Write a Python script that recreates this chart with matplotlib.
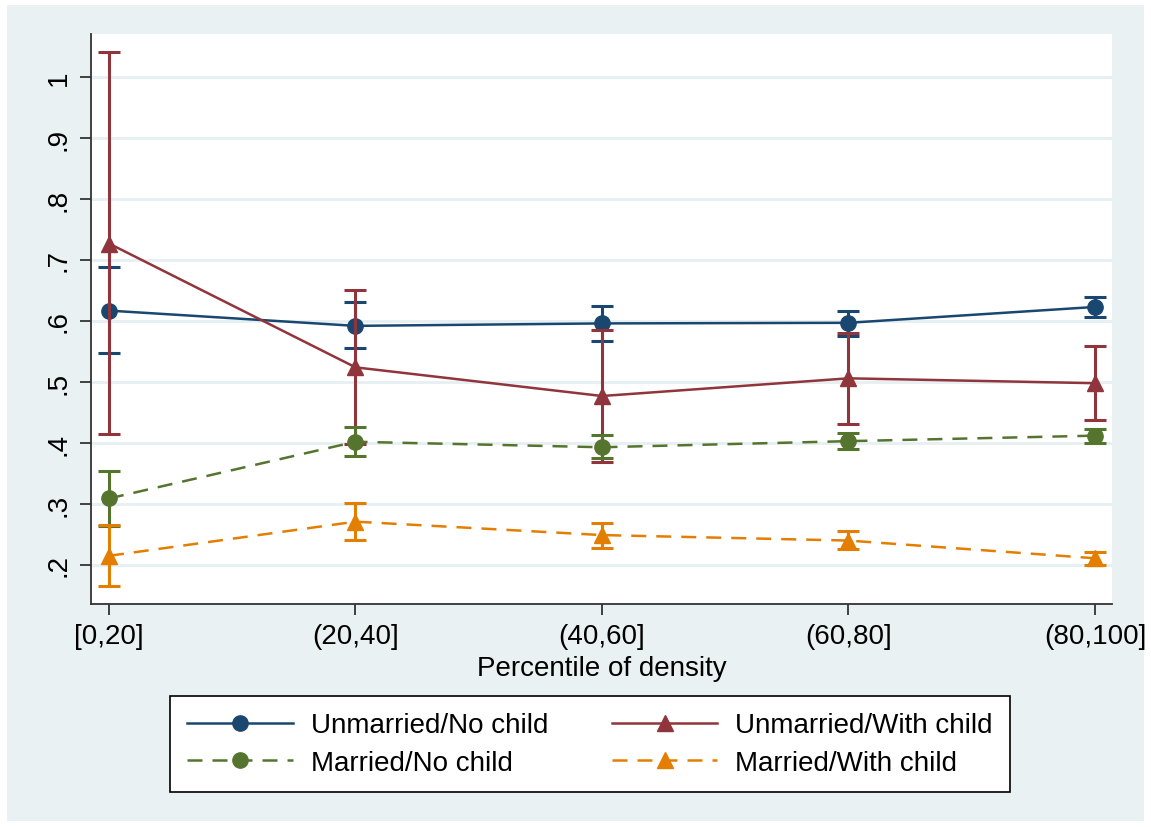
import matplotlib.pyplot as plt
from matplotlib.lines import Line2D
from matplotlib.patches import Rectangle
import numpy as np

plt.rcParams['font.family'] = ['Liberation Sans', 'DejaVu Sans']

categories = ['[0,20]', '(20,40]', '(40,60]', '(60,80]', '(80,100]']

unm_nochild = [0.617, 0.592, 0.596, 0.597, 0.623]
unm_nochild_lo = [0.547, 0.556, 0.567, 0.576, 0.607]
unm_nochild_hi = [0.689, 0.631, 0.625, 0.617, 0.640]

unm_child = [0.727, 0.524, 0.477, 0.506, 0.498]
unm_child_lo = [0.414, 0.398, 0.369, 0.431, 0.437]
unm_child_hi = [1.041, 0.651, 0.585, 0.581, 0.559]

mar_nochild = [0.309, 0.402, 0.393, 0.403, 0.412]
mar_nochild_lo = [0.264, 0.378, 0.375, 0.390, 0.400]
mar_nochild_hi = [0.354, 0.427, 0.413, 0.417, 0.423]

mar_child = [0.215, 0.271, 0.249, 0.240, 0.211]
mar_child_lo = [0.166, 0.241, 0.228, 0.226, 0.200]
mar_child_hi = [0.265, 0.302, 0.269, 0.255, 0.222]

yticks = [0.2, 0.3, 0.4, 0.5, 0.6, 0.7, 0.8, 0.9, 1.0]
ytick_labels = ['.2', '.3', '.4', '.5', '.6', '.7', '.8', '.9', '1']

bg = '#eaf1f3'
fig = plt.figure(figsize=(11.51, 8.28), dpi=100, facecolor='white')
fig.patches.append(Rectangle((7 / 1151, 6 / 828), 1137 / 1151, 816 / 828,
                             transform=fig.transFigure, facecolor=bg,
                             edgecolor='none', zorder=-10))

ax = fig.add_axes([91 / 1151, 1 - 605 / 828, 1021 / 1151, 570 / 828])
ax.set_facecolor('white')

x = np.arange(len(categories))
series = [
    ('Unmarried/No child', unm_nochild, unm_nochild_lo, unm_nochild_hi, '#1a476f', 'o', '-'),
    ('Unmarried/With child', unm_child, unm_child_lo, unm_child_hi, '#90353b', '^', '-'),
    ('Married/No child', mar_nochild, mar_nochild_lo, mar_nochild_hi, '#55752f', 'o', (0, (6, 4))),
    ('Married/With child', mar_child, mar_child_lo, mar_child_hi, '#e37e00', '^', (0, (6, 4))),
]

handles = {}
for i, (name, m, lo, hi, col, mk, ls) in enumerate(series):
    m = np.array(m)
    yerr = [m - np.array(lo), np.array(hi) - m]
    ax.errorbar(x, m, yerr=yerr, fmt='none', ecolor=col, elinewidth=2.2,
                capsize=8, capthick=2.2, zorder=3 + i)
    ms = 11 if mk == 'o' else 12
    ax.plot(x, m, color=col, lw=1.8, linestyle=ls, marker=mk, markersize=ms,
            zorder=3 + i)
    handles[name] = Line2D([], [], color=col, lw=1.8, linestyle=ls, marker=mk,
                           markersize=ms)

ax.set_xlim(-0.073, 4.069)
ax.set_ylim(0.136, 1.0705)
ax.set_xticks(x)
ax.set_xticklabels(categories, fontsize=20)
ax.set_yticks(yticks)
ax.set_yticklabels(ytick_labels, fontsize=20, rotation=90, va='center')
ax.grid(axis='y', color='#e6eff2', lw=2)
ax.set_axisbelow(True)
for s in ['top', 'right']:
    ax.spines[s].set_visible(False)
for s in ['left', 'bottom']:
    ax.spines[s].set_color('#333333')
    ax.spines[s].set_linewidth(1.3)
ax.tick_params(length=8, width=1.3, color='#333333', pad=6)
ax.set_xlabel('Percentile of density', fontsize=20, labelpad=4)

order = ['Unmarried/No child', 'Married/No child', 'Unmarried/With child', 'Married/With child']
leg = fig.legend([handles[k] for k in order], order, loc='center',
                 bbox_to_anchor=(590 / 1151, 1 - 745 / 828), ncol=2,
                 fontsize=20, frameon=True, fancybox=False, framealpha=1,
                 handlelength=3.8, columnspacing=2.3, handletextpad=0.65,
                 labelspacing=0.4, borderpad=0.6)
leg.get_frame().set_edgecolor('black')
leg.get_frame().set_linewidth(1.2)

fig.savefig('out.png', dpi=100, facecolor='white')
